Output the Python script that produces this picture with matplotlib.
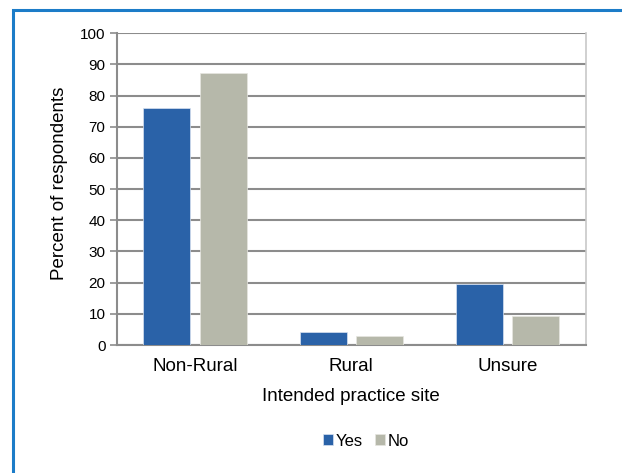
import matplotlib.pyplot as plt
import numpy as np
from matplotlib.patches import Rectangle

plt.rcParams['font.family'] = ['Liberation Sans', 'DejaVu Sans']

categories = ["Non-Rural", "Rural", "Unsure"]
yes_values = [76, 4.2, 19.5]
no_values = [87.4, 2.9, 9.3]
series_names = ["Yes", "No"]
y_ticks = list(range(0, 101, 10))

yes_color = "#2a62a8"
no_color = "#b6b8aa"
grid_color = "#8c8c8c"

fig = plt.figure(figsize=(6.22, 4.73), dpi=100)
ax = fig.add_axes([116.7 / 622, 1 - 345 / 473, (586 - 116.7) / 622, (345 - 33.3) / 473])

x = np.arange(len(categories))
width = 0.3
offset = 0.18
ax.bar(x - offset, yes_values, width, color=yes_color, label=series_names[0],
       edgecolor="#d8e2f0", linewidth=0.5, zorder=3)
ax.bar(x + offset, no_values, width, color=no_color, label=series_names[1],
       edgecolor="#e6e6e0", linewidth=0.5, zorder=3)

ax.set_xlim(-0.5, len(categories) - 0.5)
ax.set_ylim(0, 100)
ax.set_yticks(y_ticks)
ax.set_xticks(x)
ax.set_xticklabels(categories, fontsize=13.5)
ax.tick_params(axis='y', labelsize=11, length=5, width=1.2, color=grid_color, pad=3)
ax.tick_params(axis='x', length=0, pad=9)

# horizontal gridlines
ax.yaxis.grid(True, color=grid_color, linewidth=1.5, zorder=0)
ax.set_axisbelow(True)

ax.spines["top"].set_visible(False)
ax.spines["left"].set_color(grid_color)
ax.spines["left"].set_linewidth(1.5)
ax.spines["bottom"].set_color(grid_color)
ax.spines["bottom"].set_linewidth(1.5)
ax.spines["right"].set_color("#c8c8c8")
ax.spines["right"].set_linewidth(1.2)

ax.set_ylabel("Percent of respondents", fontsize=13.5, labelpad=9)
ax.yaxis.set_label_coords(-0.103, 0.52)
ax.set_xlabel("Intended practice site", fontsize=13.5, labelpad=10)

ax.legend(loc="center", bbox_to_anchor=(366 / 622, 1 - 441 / 473), bbox_transform=fig.transFigure,
          ncol=2, frameon=False, fontsize=12, handlelength=0.6, handleheight=0.6,
          handletextpad=0.15, columnspacing=0.7)

# blue frame around the figure
fig.patches.append(Rectangle((13 / 622, -0.1), 1.2, 1.1 - 10 / 473, transform=fig.transFigure,
                             fill=False, edgecolor="#1c7cc8", linewidth=2.2))

fig.savefig("out.png", dpi=100)
